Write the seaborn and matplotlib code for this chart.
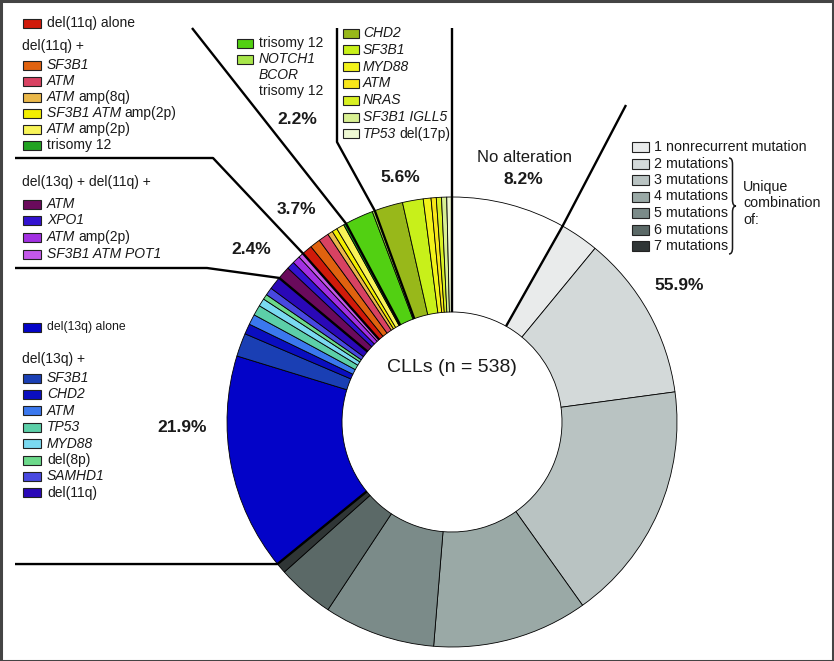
import numpy as np
import matplotlib
matplotlib.use("Agg")
import matplotlib.pyplot as plt
import seaborn as sns
from matplotlib.path import Path
from matplotlib.patches import PathPatch, Rectangle

W, H = 834, 661

# slice counts out of 538 CLLs, clockwise from 12 o'clock
no_alt_counts = [44]
no_alt_colors = ["#ffffff"]

mut_labels = ["1 nonrecurrent mutation", "2 mutations", "3 mutations", "4 mutations",
              "5 mutations", "6 mutations", "7 mutations"]
mut_counts = [15, 64, 93, 60, 43, 22, 4]
mut_colors = ["#e9ebeb", "#d3d9d9", "#b9c3c2", "#9aa9a6", "#7b8b89", "#5b6967", "#2f3535"]

del13_labels = [[("del(13q) alone", False)], [("SF3B1", True)], [("CHD2", True)], [("ATM", True)],
                [("TP53", True)], [("MYD88", True)], [("del(8p)", False)], [("SAMHD1", True)],
                [("del(11q)", False)]]
del13_counts = [84, 9, 4, 4, 4, 3, 2, 3, 5]
del13_colors = ["#0303c8", "#1a3fb4", "#0a0ec0", "#3b78ee", "#5ccfa8", "#7ad9f0", "#6cd98a",
                "#4848e0", "#2a08b8"]

d13d11_labels = [[("ATM", True)], [("XPO1", True)], [("ATM", True), ("amp(2p)", False)],
                 [("SF3B1 ATM POT1", True)]]
d13d11_counts = [5, 3, 3, 2]
d13d11_colors = ["#6a0a5c", "#3212d0", "#a230e2", "#c458ea"]

del11_labels = [[("del(11q) alone", False)], [("SF3B1", True)], [("ATM", True)],
                [("ATM", True), ("amp(8q)", False)], [("SF3B1 ATM", True), ("amp(2p)", False)],
                [("ATM", True), ("amp(2p)", False)], [("trisomy 12", False)]]
del11_counts = [4, 4, 4, 2, 2, 3, 1]
del11_colors = ["#d01a0a", "#e0620f", "#d84262", "#eab84a", "#f2ee00", "#f8f458", "#22a222"]

tri12_labels = [[("trisomy 12", False)], [("NOTCH1", True)]]
tri12_extra = [[("BCOR", True)], [("trisomy 12", False)]]
tri12_counts = [11, 1]
tri12_colors = ["#52d012", "#a8e64a"]

other_labels = [[("CHD2", True)], [("SF3B1", True)], [("MYD88", True)], [("ATM", True)],
                [("NRAS", True)], [("SF3B1 IGLL5", True)], [("TP53", True), ("del(17p)", False)]]
other_counts = [11, 8, 3, 2, 2, 2, 2]
other_colors = ["#98b81a", "#c8f01a", "#f2f21a", "#f8e61a", "#d8f022", "#d8f092", "#eef8d2"]

groups = [no_alt_counts, mut_counts, del13_counts, d13d11_counts, del11_counts, tri12_counts, other_counts]
group_colors = [no_alt_colors, mut_colors, del13_colors, d13d11_colors, del11_colors, tri12_colors, other_colors]

sns.set_theme(style="white")
plt.rcParams["font.family"] = ["Liberation Sans", "DejaVu Sans"]

fig = plt.figure(figsize=(W / 100, H / 100), dpi=100)
ax = fig.add_axes([0, 0, 1, 1])
renderer = fig.canvas.get_renderer()

CX, CY, R, R_IN = 452, 422, 225, 110
counts = sum(groups, [])
colors = sum(group_colors, [])
wedges, _ = ax.pie(counts, colors=colors, startangle=-90, counterclock=True,
                   radius=R, center=(CX, CY),
                   wedgeprops=dict(width=R - R_IN, edgecolor="black", linewidth=0.6))
ax.set_xlim(0, W)
ax.set_ylim(H, 0)
ax.set_aspect("equal")
ax.axis("off")


def ring_pt(theta, r):
    t = np.deg2rad(theta)
    return CX + r * np.cos(t), CY + r * np.sin(t)


# thick group separators running out to the legends
leads = [[(626, 105)], [(15, None)], [(207, 268), (15, 268)], [(213, 158), (15, 158)],
         [(192, 28)], [(337, 142), (337, 28)], [(452, 28)]]
ends = np.cumsum([len(g) for g in groups]) - 1
for idx, lead in zip(ends, leads):
    th = wedges[idx].theta2
    pts = [ring_pt(th, R_IN), ring_pt(th, R)]
    for x, y in lead:
        pts.append((x, pts[-1][1] if y is None else y))
    xs, ys = zip(*pts)
    ax.plot(xs, ys, color="black", lw=1.7, solid_capstyle="butt", zorder=5)


def rich(x, y, parts, size=10):
    for s, it in parts:
        t = ax.text(x, y, s, fontsize=size, style="italic" if it else "normal",
                    va="center", ha="left", color="#1a1a1a")
        x += t.get_window_extent(renderer=renderer).width + 3.5


def swatch(x, y, color, w=18, h=9):
    ax.add_patch(Rectangle((x, y - h / 2), w, h, facecolor=color, edgecolor="#222222", lw=0.8))


# left legends
swatch(23, 23, del11_colors[0])
rich(47, 23, del11_labels[0])
ax.text(22, 46, "del(11q) +", fontsize=10, va="center", color="#1a1a1a")
for k, y in enumerate([65, 81, 97, 113, 129, 145]):
    swatch(23, y, del11_colors[k + 1])
    rich(47, y, del11_labels[k + 1])

ax.text(22, 182, "del(13q) + del(11q) +", fontsize=10, va="center", color="#1a1a1a")
for k, y in enumerate([204, 220, 237, 254]):
    swatch(23, y, d13d11_colors[k])
    rich(47, y, d13d11_labels[k])

swatch(23, 327, del13_colors[0])
rich(47, 327, del13_labels[0], size=8.8)
ax.text(22, 359, "del(13q) +", fontsize=10, va="center", color="#1a1a1a")
for k in range(8):
    y = 378 + 16.4 * k
    swatch(23, y, del13_colors[k + 1])
    rich(47, y, del13_labels[k + 1])

# top legends
for k, y in enumerate([43, 59]):
    swatch(237, y, tri12_colors[k], w=16)
    rich(259, y, tri12_labels[k])
for k, y in enumerate([75, 91]):
    rich(259, y, tri12_extra[k])

for k in range(7):
    y = 33 + 16.8 * k
    swatch(343, y, other_colors[k], w=16)
    rich(363, y, other_labels[k])

# right legend
for k in range(7):
    y = 147 + 16.5 * k
    swatch(632, y, mut_colors[k], w=17, h=10)
    ax.text(654, y, mut_labels[k], fontsize=10.3, va="center", color="#1a1a1a")

bx, by0, by1, bw, q = 729, 158, 254, 7, 6
bm = (by0 + by1) / 2
verts = [(bx, by0), (bx + bw / 2, by0), (bx + bw / 2, by0 + q), (bx + bw / 2, bm - q),
         (bx + bw / 2, bm), (bx + bw, bm), (bx + bw / 2, bm), (bx + bw / 2, bm + q),
         (bx + bw / 2, by1 - q), (bx + bw / 2, by1), (bx, by1)]
codes = [Path.MOVETO, Path.CURVE3, Path.CURVE3, Path.LINETO, Path.CURVE3, Path.CURVE3,
         Path.CURVE3, Path.CURVE3, Path.LINETO, Path.CURVE3, Path.CURVE3]
ax.add_patch(PathPatch(Path(verts, codes), facecolor="none", edgecolor="#1a1a1a", lw=1.1))
for s, y in zip(["Unique", "combination", "of:"], [187, 203, 220]):
    ax.text(743, y, s, fontsize=10.3, va="center", color="#1a1a1a")

# group percentages
n = sum(counts)
pct_pos = [(523, 180), (679, 286), (182, 428), (251, 250), (296, 210), (297, 120), (400, 177)]
for g, (x, y) in zip(groups, pct_pos):
    ax.text(x, y, f"{100 * sum(g) / n:.1f}%", fontsize=12.5, fontweight="bold",
            ha="center", va="center", color="#1a1a1a")
ax.text(525, 157, "No alteration", fontsize=12, ha="center", va="center", color="#1a1a1a")
ax.text(CX, 367, f"CLLs (n = {n})", fontsize=14, ha="center", va="center", color="#1a1a1a")

fig.patches.append(Rectangle((0.5, 0.5), W - 1.5, H - 1.5, transform=None, fill=False,
                             edgecolor="#444444", lw=2.2))
fig.savefig("out.png", dpi=100)
